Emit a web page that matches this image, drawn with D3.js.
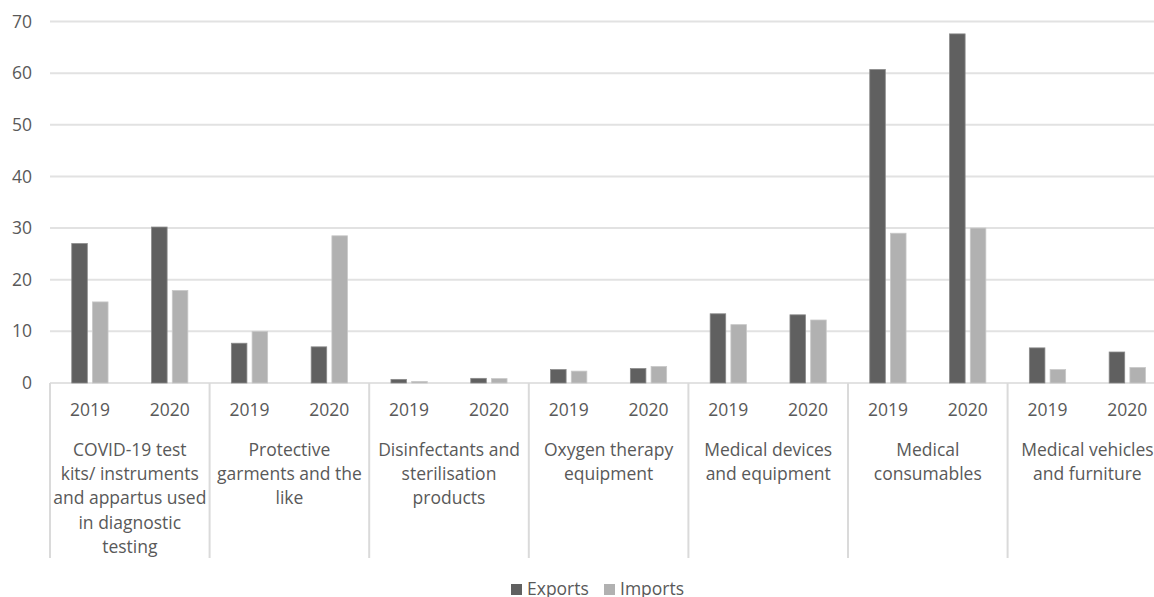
<!DOCTYPE html>
<html>
<head>
<meta charset="utf-8">
<script src="https://cdn.jsdelivr.net/npm/d3@7"></script>
<style>
    body { margin: 0; background: #fff; overflow: hidden; }
    text { font-family: "Open Sans", "Noto Sans", sans-serif; fill: #595959; }
</style>
</head>
<body>
<div id="main"></div>
<script>
// categories (line breaks as in the original labels)
const categories = [
    "COVID-19 test\nkits/ instruments\nand appartus used\nin diagnostic\ntesting",
    "Protective\ngarments and the\nlike",
    "Disinfectants and\nsterilisation\nproducts",
    "Oxygen therapy\nequipment",
    "Medical devices\nand equipment",
    "Medical\nconsumables",
    "Medical vehicles\nand furniture"
];
const years = ["2019", "2020"];
const seriesNames = ["Exports", "Imports"];
// values per category: [2019, 2020]
const exportsValues = [[27.0, 30.2], [7.7, 7.0], [0.7, 0.9], [2.6, 2.8], [13.4, 13.2], [60.7, 67.6], [6.8, 6.0]];
const importsValues = [[15.7, 17.9], [10.0, 28.5], [0.3, 0.85], [2.3, 3.2], [11.3, 12.2], [29.0, 30.0], [2.6, 3.0]];
const yTicks = [0, 10, 20, 30, 40, 50, 60, 70];

onload = () => {
    const width = 1154, height = 597;
    const svg = d3.select("#main").append("svg")
        .attr("width", width).attr("height", height);

    const left = 50, groupW = 159.6;
    const top = 21.5, bottom = 383;
    const fs = "17.5px";

    let x0 = d3.scaleBand()
        .domain(d3.range(categories.length))
        .range([left, left + groupW * categories.length])
        .padding(0);
    let x1 = d3.scaleBand().domain(years).range([0, groupW]).padding(0);
    let x2 = d3.scaleBand().domain(seriesNames).range([0, x1.bandwidth()])
        .paddingInner(0.25).paddingOuter(1.05);
    let y = d3.scaleLinear().domain([0, 70]).range([bottom, top]);
    const color = d3.scaleOrdinal().domain(seriesNames).range(["#606060", "#b1b1b1"]);

    // gridlines
    svg.append("g").selectAll("line").data(yTicks).enter().append("line")
        .attr("x1", left).attr("x2", width)
        .attr("y1", (d) => y(d)).attr("y2", (d) => y(d))
        .attr("stroke", "#e2e2e2").attr("stroke-width", 2);

    // y axis labels
    let axisLeft = d3.axisLeft(y).tickValues(yTicks).tickSize(0).tickPadding(0);
    let ay = svg.append("g").attr("transform", "translate(32,0)").call(axisLeft);
    ay.select(".domain").remove();
    ay.selectAll("text").style("font-size", fs).attr("fill", "#595959");

    // bars
    let rows = [];
    categories.forEach((c, i) => {
        years.forEach((yr, j) => {
            rows.push({ cat: i, year: yr, series: "Exports", value: exportsValues[i][j] });
            rows.push({ cat: i, year: yr, series: "Imports", value: importsValues[i][j] });
        });
    });
    svg.append("g").selectAll("rect").data(rows).enter().append("rect")
        .attr("x", (d) => x0(d.cat) + x1(d.year) + x2(d.series))
        .attr("width", x2.bandwidth())
        .attr("y", (d) => y(d.value))
        .attr("height", (d) => y(0) - y(d.value))
        .attr("fill", (d) => color(d.series))
        .attr("stroke", (d) => d.series === "Exports" ? "#8a8a8a" : "#c8c8c8")
        .attr("stroke-width", 0.8);

    // category separators
    svg.append("g").selectAll("line").data(d3.range(categories.length + 1)).enter().append("line")
        .attr("x1", (d) => left + d * groupW).attr("x2", (d) => left + d * groupW)
        .attr("y1", bottom).attr("y2", 558)
        .attr("stroke", "#dadada").attr("stroke-width", 2);

    // year labels
    let yearG = svg.append("g");
    categories.forEach((c, i) => {
        yearG.selectAll(null).data(years).enter().append("text")
            .attr("x", (d) => x0(i) + x1(d) + x1.bandwidth() / 2)
            .attr("y", 416)
            .attr("text-anchor", "middle")
            .style("font-size", fs)
            .text((d) => d);
    });

    // category labels
    let catG = svg.append("g").selectAll("text").data(categories).enter().append("text")
        .attr("text-anchor", "middle")
        .style("font-size", fs);
    catG.each(function (d, i) {
        let t = d3.select(this);
        d.split("\n").forEach((line, k) => {
            t.append("tspan")
                .attr("x", x0(i) + groupW / 2)
                .attr("y", 456 + k * 24.2)
                .text(line);
        });
    });

    // legend
    const legendX = [511, 604];
    let lg = svg.append("g").selectAll("g").data(seriesNames).enter().append("g")
        .attr("transform", (d, i) => `translate(${legendX[i]},584)`);
    lg.append("rect").attr("width", 11).attr("height", 11).attr("fill", (d) => color(d));
    lg.append("text").attr("x", 16).attr("y", 10.5).style("font-size", fs).text((d) => d);
};
</script>
</body>
</html>
